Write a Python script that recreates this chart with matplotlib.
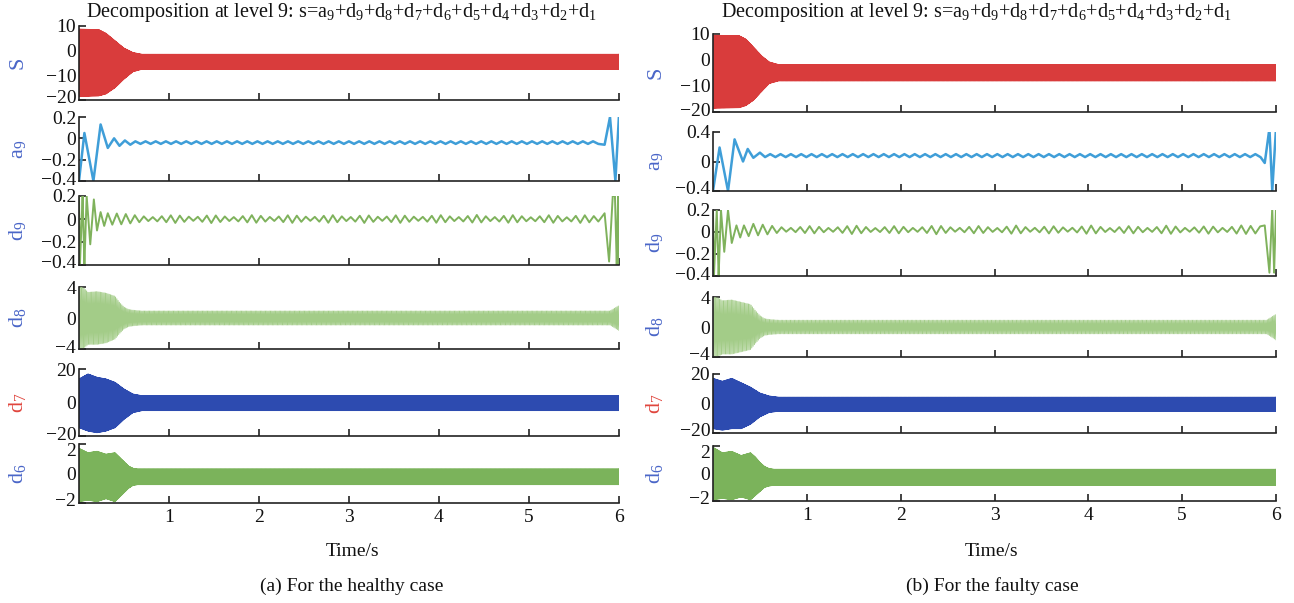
import numpy as np
import matplotlib
matplotlib.use('Agg')
import matplotlib.pyplot as plt
import matplotlib.transforms as mtransforms

plt.rcParams['font.family'] = ['Liberation Serif', 'DejaVu Serif']
plt.rcParams['mathtext.fontset'] = 'custom'
plt.rcParams['mathtext.rm'] = 'Liberation Serif'
plt.rcParams['mathtext.it'] = 'Liberation Serif:italic'

# ------------------------------------------------------------------ data
time_ticks = [1, 2, 3, 4, 5, 6]
row_names = ['S', r'$\mathregular{a_9}$', r'$\mathregular{d_9}$',
             r'$\mathregular{d_8}$', r'$\mathregular{d_7}$', r'$\mathregular{d_6}$']
title_text = (r'Decomposition at level 9: s=a$_9$+d$_9$+d$_8$+d$_7$+d$_6$'
              r'+d$_5$+d$_4$+d$_3$+d$_2$+d$_1$')
captions = ['(a) For the healthy case', '(b) For the faulty case']

yticks_h = [[10, 0, -10, -20], [0.2, 0, -0.2, -0.4], [0.2, 0, -0.2, -0.4],
            [4, 0, -4], [20, 0, -20], [2, 0, -2]]
yticks_f = [[10, 0, -10, -20], [0.4, 0, -0.4], [0.2, 0, -0.2, -0.4],
            [4, 0, -4], [20, 0, -20], [2, 0, -2]]

# --- dense components: envelope key points (time, upper, lower) + period
s_h_t  = [0, 0.22, 0.30, 0.40, 0.50, 0.60, 0.70, 6.0]
s_h_up = [8.7, 8.5, 7.0, 4.0, 1.0, -0.8, -1.5, -1.5]
s_h_lo = [-18.5, -18.3, -17.5, -15.0, -11.5, -8.5, -7.5, -7.5]
s_f_t  = [0, 0.28, 0.35, 0.43, 0.52, 0.60, 0.70, 6.0]
s_f_up = [9.5, 9.3, 8.0, 5.0, 1.5, -0.8, -1.8, -1.8]
s_f_lo = [-18.5, -18.3, -17.5, -15.5, -12.0, -9.0, -8.0, -8.0]

d8_h_t  = [0, 0.05, 0.10, 0.20, 0.30, 0.40, 0.45, 0.50, 0.55, 0.60, 0.70, 5.9, 6.0]
d8_h_up = [4.0, 3.9, 3.3, 3.4, 3.2, 2.8, 2.0, 1.4, 1.1, 1.0, 0.9, 0.9, 1.6]
d8_h_lo = [-4.0, -3.9, -3.4, -3.4, -3.2, -2.7, -2.0, -1.4, -1.1, -1.0, -0.9, -0.9, -1.6]
d8_f_t  = [0, 0.05, 0.10, 0.20, 0.30, 0.40, 0.45, 0.50, 0.55, 0.60, 0.70, 5.9, 6.0]
d8_f_up = [4.0, 3.9, 3.5, 3.6, 3.3, 3.0, 2.2, 1.5, 1.1, 1.0, 0.9, 0.9, 1.7]
d8_f_lo = [-4.0, -3.9, -3.6, -3.6, -3.3, -3.0, -2.2, -1.5, -1.1, -1.0, -0.9, -0.9, -1.7]

d7_h_t  = [0, 0.10, 0.20, 0.30, 0.40, 0.50, 0.60, 0.70, 6.0]
d7_h_up = [14, 17, 15, 14, 12, 8, 5, 4.0, 4.0]
d7_h_lo = [-15, -17, -18, -17, -15, -10, -6, -4.8, -4.8]
d7_f_t  = [0, 0.10, 0.20, 0.30, 0.40, 0.50, 0.60, 0.70, 6.0]
d7_f_up = [17, 15, 17, 14, 11, 7, 5, 4.2, 4.2]
d7_f_lo = [-17, -18, -17, -17, -14, -9, -6, -5.2, -5.2]

d6_h_t  = [0, 0.10, 0.20, 0.30, 0.40, 0.45, 0.50, 0.55, 0.60, 0.65, 6.0]
d6_h_up = [1.7, 1.4, 1.5, 1.3, 1.4, 1.1, 0.8, 0.5, 0.35, 0.3, 0.3]
d6_h_lo = [-1.9, -1.8, -1.9, -1.7, -1.9, -1.6, -1.3, -1.0, -0.8, -0.75, -0.75]
d6_f_t  = [0, 0.10, 0.20, 0.30, 0.40, 0.45, 0.50, 0.55, 0.60, 0.65, 6.0]
d6_f_up = [1.9, 1.5, 1.6, 1.3, 1.5, 1.2, 0.8, 0.5, 0.35, 0.3, 0.3]
d6_f_lo = [-1.9, -1.8, -1.9, -1.7, -1.9, -1.6, -1.3, -1.0, -0.9, -0.85, -0.85]

period_s, period_d8, period_d7, period_d6 = 0.006, 0.014, 0.006, 0.005

# --- a9 / d9: start transient extrema, steady ripple, end transient extrema
a9_h_start_t = [0.0, 0.06, 0.16, 0.24, 0.32, 0.39, 0.45, 0.51, 0.57]
a9_h_start_v = [-0.40, 0.05, -0.40, 0.13, -0.09, 0.00, -0.07, -0.02, -0.06]
a9_h_center, a9_h_amp, a9_h_period = -0.04, 0.012, 0.113
a9_h_end_t = [5.84, 5.90, 5.96, 6.0]
a9_h_end_v = [-0.06, 0.20, -0.40, 0.22]

a9_f_start_t = [0.0, 0.07, 0.16, 0.23, 0.32, 0.37, 0.43, 0.50]
a9_f_start_v = [-0.40, 0.19, -0.40, 0.30, 0.00, 0.17, 0.05, 0.12]
a9_f_center, a9_f_amp, a9_f_period = 0.08, 0.02, 0.11
a9_f_end_t = [5.88, 5.93, 5.96, 6.0]
a9_f_end_v = [-0.02, 0.45, -0.40, 0.45]

d9_h_start_t = [0.0, 0.01, 0.04, 0.06, 0.085, 0.125, 0.165, 0.20, 0.24, 0.28, 0.32]
d9_h_start_v = [0.20, -0.40, 0.20, -0.40, 0.20, -0.22, 0.17, -0.10, 0.06, -0.06, 0.05]
d9_h_amp_t = [0.35, 0.50, 0.80, 1.06, 1.28, 1.47, 1.70, 1.94, 2.15, 2.35, 2.58, 2.80,
              3.00, 3.18, 3.36, 3.55, 3.78, 4.00, 4.20, 4.42, 4.60, 4.80, 5.02, 5.25,
              5.42, 5.58, 5.80]
d9_h_amp_v = [0.05, 0.045, 0.015, 0.035, 0.015, 0.035, 0.015, 0.035, 0.015, 0.035,
              0.015, 0.035, 0.015, 0.035, 0.015, 0.035, 0.015, 0.035, 0.015, 0.035,
              0.015, 0.035, 0.015, 0.035, 0.015, 0.035, 0.02]
d9_h_center, d9_h_period = 0.0, 0.1
d9_h_end_t = [5.84, 5.89, 5.93, 5.955, 5.975, 5.99, 6.0]
d9_h_end_v = [0.05, -0.37, 0.20, 0.20, -0.40, 0.20, -0.40]

d9_f_start_t = [0.0, 0.01, 0.04, 0.06, 0.085, 0.12, 0.16, 0.20, 0.25, 0.29, 0.33]
d9_f_start_v = [0.20, -0.40, 0.20, -0.40, 0.20, -0.18, 0.20, -0.10, 0.06, -0.05, 0.06]
d9_f_amp_t = [0.35, 0.55, 0.80, 1.05, 1.25, 1.50, 1.72, 1.95, 2.15, 2.38, 2.60, 2.82,
              3.02, 3.22, 3.40, 3.60, 3.80, 4.02, 4.22, 4.45, 4.65, 4.85, 5.05, 5.28,
              5.45, 5.62, 5.85]
d9_f_amp_v = [0.06, 0.045, 0.015, 0.035, 0.015, 0.04, 0.015, 0.035, 0.015, 0.04,
              0.015, 0.035, 0.015, 0.04, 0.015, 0.035, 0.015, 0.04, 0.015, 0.035,
              0.015, 0.04, 0.015, 0.035, 0.015, 0.04, 0.03]
d9_f_center, d9_f_period = 0.02, 0.1
d9_f_end_t = [5.88, 5.93, 5.96, 5.98, 6.0]
d9_f_end_v = [0.06, -0.37, 0.22, -0.37, 0.22]

# ------------------------------------------------------------------ styles
col_s, col_a9, col_d9, col_d8, col_d7, col_d6 = ('#d93c3c', '#3f9ed8', '#7fb25c',
                                                 '#a3cc88', '#2d4bb0', '#7bb35b')
label_cols = ['#4a66c8', '#4a66c8', '#4a66c8', '#4a66c8', '#e0463e', '#4a66c8']

W, H = 1294, 603
rows_h = [(26, 100), (117, 181), (196, 265), (287, 349), (369, 436), (444, 503)]
rows_f = [(34, 112), (132, 191), (210, 276), (297, 357), (374, 433), (446, 501)]
cols_x = [(79, 619), (713, 1276)]
label_right_x = [28, 665]


def zigzag_env(tk, up, lo, period, t0=0.0, t1=6.0):
    t = np.arange(t0, t1 + 1e-9, period / 2.0)
    u = np.interp(t, tk, up)
    l = np.interp(t, tk, lo)
    v = np.where(np.arange(len(t)) % 2 == 0, u, l)
    return t, v


def smooth_through_extrema(t, v, n=10):
    # half-cosine segments between successive extrema (rendering only)
    s = (1 - np.cos(np.pi * np.linspace(0, 1, n, endpoint=False))) / 2
    tt, vv = [], []
    for i in range(len(t) - 1):
        tt.append(t[i] + (t[i + 1] - t[i]) * s)
        vv.append(v[i] + (v[i + 1] - v[i]) * s)
    tt.append([t[-1]])
    vv.append([v[-1]])
    return np.concatenate(tt), np.concatenate(vv)


def ripple(st_t, st_v, center, amp_t, amp_v, period, en_t, en_v):
    t_mid = np.arange(st_t[-1] + period / 2, en_t[0] - period / 4, period / 2)
    amp = np.interp(t_mid, amp_t, amp_v)
    sign = np.where(np.arange(len(t_mid)) % 2 == 0, 1.0, -1.0)
    if st_v[-1] > center:
        sign = -sign
    v_mid = center + sign * amp
    t = np.concatenate([st_t, t_mid, en_t])
    v = np.concatenate([st_v, v_mid, en_v])
    return smooth_through_extrema(t, v)


series_h = [
    zigzag_env(s_h_t, s_h_up, s_h_lo, period_s),
    ripple(a9_h_start_t, a9_h_start_v, a9_h_center, [0, 6], [a9_h_amp, a9_h_amp],
           a9_h_period, a9_h_end_t, a9_h_end_v),
    ripple(d9_h_start_t, d9_h_start_v, d9_h_center, d9_h_amp_t, d9_h_amp_v,
           d9_h_period, d9_h_end_t, d9_h_end_v),
    zigzag_env(d8_h_t, d8_h_up, d8_h_lo, period_d8),
    zigzag_env(d7_h_t, d7_h_up, d7_h_lo, period_d7),
    zigzag_env(d6_h_t, d6_h_up, d6_h_lo, period_d6),
]
series_f = [
    zigzag_env(s_f_t, s_f_up, s_f_lo, period_s),
    ripple(a9_f_start_t, a9_f_start_v, a9_f_center, [0, 6], [a9_f_amp, a9_f_amp],
           a9_f_period, a9_f_end_t, a9_f_end_v),
    ripple(d9_f_start_t, d9_f_start_v, d9_f_center, d9_f_amp_t, d9_f_amp_v,
           d9_f_period, d9_f_end_t, d9_f_end_v),
    zigzag_env(d8_f_t, d8_f_up, d8_f_lo, period_d8),
    zigzag_env(d7_f_t, d7_f_up, d7_f_lo, period_d7),
    zigzag_env(d6_f_t, d6_f_up, d6_f_lo, period_d6),
]
line_cols = [col_s, col_a9, col_d9, col_d8, col_d7, col_d6]
line_ws = [0.8, 1.8, 1.4, 0.7, 0.8, 0.8]

fig = plt.figure(figsize=(W / 100, H / 100), dpi=100)
fig.patch.set_facecolor('white')

titles_x = [342, 977]
xlabel_x = [352, 992]
for c, (series, rows, yt) in enumerate([(series_h, rows_h, yticks_h),
                                         (series_f, rows_f, yticks_f)]):
    x0, x1 = cols_x[c]
    for r in range(6):
        top, bot = rows[r]
        ax = fig.add_axes([x0 / W, 1 - bot / H, (x1 - x0) / W, (bot - top) / H])
        t, v = series[r]
        ax.plot(t, v, color=line_cols[r], lw=line_ws[r])
        ax.set_xlim(0, 6)
        ax.set_ylim(min(yt[r]), max(yt[r]))
        ax.set_yticks(yt[r])
        ax.set_yticklabels([('%g' % y).replace('-', '\u2212') for y in yt[r]])
        ax.set_xticks(time_ticks)
        if r < 5:
            ax.set_xticklabels([])
        for side in ('top', 'right'):
            ax.spines[side].set_visible(False)
        for side in ('left', 'bottom'):
            ax.spines[side].set_linewidth(1.2)
            ax.spines[side].set_color('#222222')
        ax.tick_params(direction='in', length=5, width=1.2, labelsize=14,
                       pad=2, colors='#222222', labelcolor='#111111')
        ax.tick_params(axis='x', pad=4)
        ax.set_facecolor('none')
        ax.set_ylabel(row_names[r], color=label_cols[r], fontsize=16)
        ax.yaxis.set_label_coords((label_right_x[c] - x0) / (x1 - x0), 0.5)
        # nudge extreme tick labels slightly inward, as in the reference
        labels = ax.get_yticklabels()
        up = mtransforms.ScaledTranslation(0, 3 / 100, fig.dpi_scale_trans)
        dn = mtransforms.ScaledTranslation(0, -5 / 100, fig.dpi_scale_trans)
        labels[-1].set_transform(labels[-1].get_transform() + up)
        if r == 5:
            labels[0].set_transform(labels[0].get_transform() + dn)
    fig.text(titles_x[c] / W, 1 - 13 / H, title_text, ha='center', va='center',
             fontsize=14.5, color='#111111')
    fig.text(xlabel_x[c] / W, 1 - 551 / H, 'Time/s', ha='center', va='center',
             fontsize=14, color='#111111')
    fig.text(xlabel_x[c] / W, 1 - 586 / H, captions[c], ha='center', va='center',
             fontsize=14, color='#111111')

fig.savefig('out.png', dpi=100)
